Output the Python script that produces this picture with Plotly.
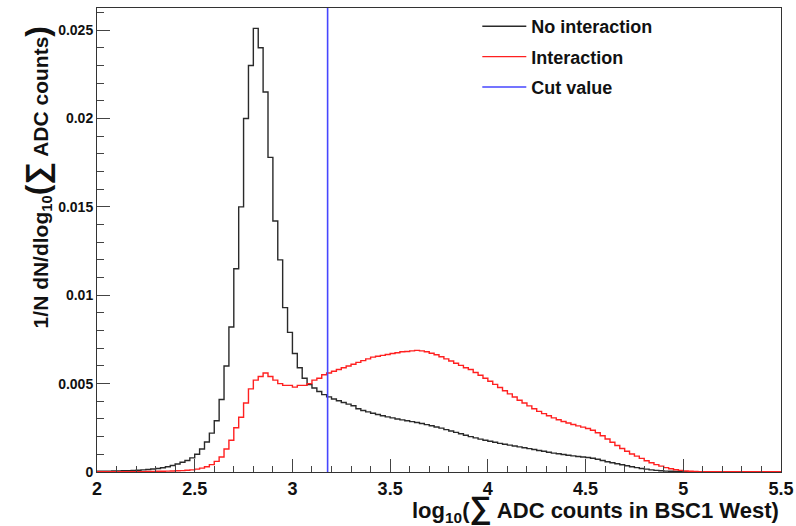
import numpy as np
import plotly.graph_objects as go

# ---- data (bin width 0.025, left edges from 2.0 to 5.475) ----
bin_lo = 2.0
bin_w = 0.025

no_interaction = [
    0.00005, 0.00005, 0.00005, 0.00006, 0.00006, 0.00007, 0.00008, 0.00009, 0.00010, 0.00012,
    0.00014, 0.00017, 0.00020, 0.00024, 0.00030, 0.00037, 0.00045, 0.00055, 0.00065, 0.00080,
    0.00100, 0.00130, 0.00170, 0.00220, 0.00290, 0.00410, 0.00600, 0.00820, 0.01150, 0.01500,
    0.02000, 0.02300, 0.02510, 0.02400, 0.02150, 0.01780, 0.01420, 0.01200, 0.00930, 0.00790,
    0.00670, 0.00590, 0.00530, 0.00495, 0.00475, 0.00455, 0.00438, 0.00425, 0.00413, 0.00403,
    0.00393, 0.00384, 0.00375, 0.00358, 0.00348, 0.00340, 0.00332, 0.00325, 0.00318, 0.00312,
    0.00306, 0.00300, 0.00295, 0.00290, 0.00285, 0.00280, 0.00274, 0.00268, 0.00262, 0.00255,
    0.00248, 0.00240, 0.00232, 0.00224, 0.00216, 0.00208, 0.00200, 0.00193, 0.00186, 0.00180,
    0.00174, 0.00168, 0.00162, 0.00157, 0.00152, 0.00147, 0.00142, 0.00137, 0.00132, 0.00127,
    0.00122, 0.00117, 0.00112, 0.00107, 0.00103, 0.00099, 0.00095, 0.00091, 0.00088, 0.00085,
    0.00082, 0.00078, 0.00072, 0.00065, 0.00058, 0.00052, 0.00047, 0.00041, 0.00035, 0.00030,
    0.00025, 0.00020, 0.00016, 0.00012, 0.00009, 0.00007, 0.00005, 0.00004, 0.00003, 0.00002,
    0.00001, 0.00001, 0.00001, 0.00001, 0.00000, 0.00000, 0.00000, 0.00000, 0.00000, 0.00000,
    0.00000, 0.00000, 0.00000, 0.00000, 0.00000, 0.00000, 0.00000, 0.00000, 0.00000, 0.00000,
]

interaction = [
    0.00001, 0.00001, 0.00001, 0.00001, 0.00001, 0.00001, 0.00002, 0.00002, 0.00002, 0.00002,
    0.00003, 0.00003, 0.00004, 0.00004, 0.00005, 0.00006, 0.00007, 0.00008, 0.00010, 0.00012,
    0.00016, 0.00022, 0.00030, 0.00042, 0.00060, 0.00085, 0.00130, 0.00180, 0.00250, 0.00310,
    0.00390, 0.00470, 0.00520, 0.00540, 0.00560, 0.00540, 0.00520, 0.00500, 0.00490, 0.00490,
    0.00480, 0.00490, 0.00490, 0.00500, 0.00520, 0.00530, 0.00550, 0.00560, 0.00570, 0.00580,
    0.00590, 0.00600, 0.00610, 0.00620, 0.00630, 0.00640, 0.00650, 0.00655, 0.00660, 0.00665,
    0.00670, 0.00675, 0.00680, 0.00682, 0.00685, 0.00688, 0.00685, 0.00680, 0.00672, 0.00663,
    0.00652, 0.00640, 0.00628, 0.00615, 0.00603, 0.00590, 0.00580, 0.00563, 0.00547, 0.00530,
    0.00513, 0.00496, 0.00478, 0.00460, 0.00442, 0.00424, 0.00406, 0.00390, 0.00374, 0.00358,
    0.00343, 0.00330, 0.00318, 0.00306, 0.00296, 0.00286, 0.00277, 0.00269, 0.00261, 0.00254,
    0.00246, 0.00236, 0.00222, 0.00205, 0.00187, 0.00168, 0.00150, 0.00133, 0.00117, 0.00102,
    0.00090, 0.00077, 0.00064, 0.00052, 0.00042, 0.00033, 0.00025, 0.00018, 0.00013, 0.00009,
    0.00006, 0.00004, 0.00003, 0.00002, 0.00002, 0.00001, 0.00001, 0.00001, 0.00001, 0.00001,
    0.00001, 0.00001, 0.00001, 0.00001, 0.00001, 0.00001, 0.00001, 0.00001, 0.00001, 0.00001,
]

cut_value = 3.18

x_range = [2.0, 5.5]
y_max = 0.02625
y_tickvals = [0, 0.005, 0.01, 0.015, 0.02, 0.025]
y_ticktext = ["0", "0.005", "0.01", "0.015", "0.02", "0.025"]
x_tickvals = [2, 2.5, 3, 3.5, 4, 4.5, 5, 5.5]
x_ticktext = ["2", "2.5", "3", "3.5", "4", "4.5", "5", "5.5"]

legend_names = ["No interaction", "Interaction", "Cut value"]

# ---- build step outlines ----
n = len(no_interaction)
edges = np.round(bin_lo + bin_w * np.arange(n + 1), 4)
x_step = list(edges)
y_black = list(no_interaction) + [no_interaction[-1]]
y_red = list(interaction) + [interaction[-1]]

FONT = "Liberation Sans, Arial, Helvetica, sans-serif"

fig = go.Figure()
fig.add_trace(go.Scatter(x=x_step, y=y_black, mode="lines", line_shape="hv",
                         line=dict(color="#2a2a2a", width=1.4),
                         name=legend_names[0], legendgroup="a"))
fig.add_trace(go.Scatter(x=x_step, y=y_red, mode="lines", line_shape="hv",
                         line=dict(color="#ff2020", width=1.4),
                         name=legend_names[1], legendgroup="b"))
fig.add_trace(go.Scatter(x=[cut_value, cut_value], y=[0, y_max], mode="lines",
                         line=dict(color="#4646ff", width=1.6),
                         name=legend_names[2], legendgroup="c"))

fig.update_layout(
    width=796, height=526,
    margin=dict(l=97, r=15, t=8, b=54, autoexpand=False),
    paper_bgcolor="white", plot_bgcolor="white",
    font=dict(family=FONT, color="#111111", weight="bold"),
    showlegend=True,
    legend=dict(x=0.556, y=1.0, xanchor="left", yanchor="top",
                bgcolor="rgba(0,0,0,0)", borderwidth=0,
                font=dict(size=18, family=FONT, weight="bold"),
                tracegroupgap=4, itemwidth=44),
)

fig.update_xaxes(
    range=x_range, showgrid=False, zeroline=False, automargin=False,
    showline=True, linecolor="#333333", linewidth=1, mirror=True,
    ticks="inside", ticklen=13, tickwidth=1, tickcolor="#444444",
    tickvals=x_tickvals, ticktext=x_ticktext,
    tickfont=dict(size=18, family=FONT, weight="bold"),
    minor=dict(dtick=0.1, ticks="inside", ticklen=6, tickcolor="#444444", tickwidth=1),
)
fig.update_yaxes(
    range=[0, y_max], showgrid=False, zeroline=False, automargin=False,
    showline=True, linecolor="#333333", linewidth=1, mirror=True,
    ticks="inside", ticklen=13, tickwidth=1, tickcolor="#444444",
    tickvals=y_tickvals, ticktext=y_ticktext,
    tickfont=dict(size=14, family=FONT, weight="bold"),
    minor=dict(dtick=0.001, ticks="inside", ticklen=7, tickcolor="#444444", tickwidth=1),
)

fig.add_annotation(
    text="log<sub>10</sub>(<span style='font-size:31px'>∑</span> ADC counts in BSC1 West)",
    xref="paper", yref="paper", x=1.0, y=-0.078, xanchor="right", yanchor="middle",
    showarrow=False, font=dict(size=22, family=FONT, weight="bold"),
)
fig.add_annotation(
    text="1/N dN/dlog<sub>10</sub><span style='font-size:32px'>(∑</span> ADC counts<span style='font-size:32px'>)</span>",
    xref="paper", yref="paper", x=-0.087, y=0.636, xanchor="center", yanchor="middle",
    textangle=-90, showarrow=False, font=dict(size=21, family=FONT, weight="bold"),
)

fig.write_html("out.html", config={"displayModeBar": False},
               post_script="document.body.style.margin='0';")
